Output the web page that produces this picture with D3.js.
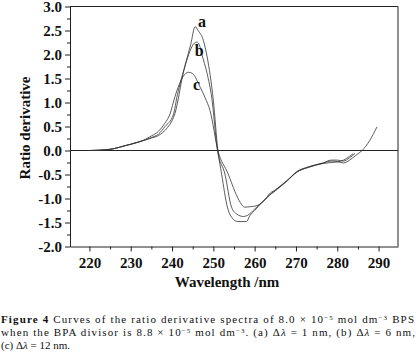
<!DOCTYPE html>
<html>
<head>
<meta charset="utf-8">
<script src="https://cdn.jsdelivr.net/npm/d3@7"></script>
<style>
  body { margin: 0; background: #fff; }
  svg { display: block; }
</style>
</head>
<body>
<div id="chart"></div>
<script>
// ratio derivative spectra: [wavelength nm, value]
const curveA = [
  [220, 0], [224, 0.015], [226, 0.04], [228.6, 0.1], [230, 0.13], [232, 0.18], [233.5, 0.22],
  [235, 0.26], [236.7, 0.31], [238.9, 0.48], [240, 0.62], [240.7, 0.77], [241.7, 1.16],
  [242.3, 1.45], [243.4, 1.85], [244.5, 2.2], [245.6, 2.58], [246.3, 2.5], [247.6, 2.29],
  [248.5, 1.95], [250, 1.04], [251.1, 0], [252, -0.49], [253.4, -1.18], [254.5, -1.4],
  [255.9, -1.48], [258, -1.48], [258.9, -1.35], [260, -1.25], [261.8, -1.08], [262.8, -1.0],
  [263.4, -0.92], [265, -0.82], [267.8, -0.63], [270.2, -0.44], [273, -0.34], [276.6, -0.26],
  [278.5, -0.22], [280, -0.23], [281.5, -0.26], [283, -0.2], [284.5, -0.1], [286, 0],
  [287.8, 0.2], [289.6, 0.49]
];
const curveB = [
  [220, 0], [224, 0.015], [226, 0.04], [228.6, 0.1], [230, 0.13], [232, 0.18], [233.5, 0.22],
  [235, 0.27], [236.7, 0.34], [238.3, 0.5], [240.3, 0.74], [241.3, 1.16], [242.2, 1.47],
  [243.2, 1.78], [244.4, 2.08], [245.2, 2.22], [246, 2.26], [246.7, 2.18], [247.2, 2.01],
  [248.5, 1.6], [249.6, 1.11], [251, 0], [252.8, -0.49], [254.4, -1.18], [255.6, -1.32],
  [257.3, -1.375], [258.3, -1.35], [260, -1.22], [261.8, -1.08], [263, -0.98], [265, -0.83],
  [267.8, -0.63], [270.2, -0.45], [273, -0.35], [276.6, -0.26], [278.5, -0.2], [280, -0.2],
  [281.5, -0.22], [283, -0.15], [284.3, -0.06]
];
const curveC = [
  [220, 0], [224, 0.015], [226, 0.04], [228.6, 0.1], [230, 0.13], [232, 0.18], [233.5, 0.23],
  [234.5, 0.28], [236.7, 0.4], [238.2, 0.56], [239.5, 0.76], [240.7, 1.12], [242.2, 1.47],
  [243, 1.58], [244, 1.63], [245, 1.6], [246.8, 1.32], [248, 1.1], [249.2, 0.83], [251.1, 0],
  [253.6, -0.49], [255.2, -0.85], [256.5, -1.08], [257.6, -1.18], [259, -1.17], [260.5, -1.15],
  [261.8, -1.08], [263, -0.97], [265, -0.84], [267.8, -0.64], [270.2, -0.45], [273, -0.35],
  [276.6, -0.27], [278.5, -0.25], [280, -0.24], [281.5, -0.2], [283, -0.12], [283.8, -0.07]
];

const curveNames = ["a", "b", "c"];
const curveLabelAt = [[246.3, 2.58], [245.5, 1.96], [245.1, 1.26]];

const xTicks = [220, 230, 240, 250, 260, 270, 280, 290];
const xMinorTicks = [225, 235, 245, 255, 265, 275, 285];
const yTicks = [-2, -1.5, -1, -0.5, 0, 0.5, 1, 1.5, 2, 2.5, 3];
const yMinorTicks = [-1.75, -1.25, -0.75, -0.25, 0.25, 0.75, 1.25, 1.75, 2.25, 2.75];

const width = 416;
const height = 352;
const margin = { top: 6.5, right: 18, bottom: 105.5, left: 70 };

const svg = d3.select("#chart")
  .append("svg")
  .attr("width", width)
  .attr("height", height);

const x = d3.scaleLinear()
  .domain([215.3, 294.7])
  .range([margin.left, width - margin.right]);

const y = d3.scaleLinear()
  .domain([-2, 3])
  .range([height - margin.bottom, margin.top]);

const boldSerif = "'Liberation Serif', 'Times New Roman', serif";

// minor ticks first, majors on top
svg.append("g")
  .attr("transform", `translate(0,${y(-2)})`)
  .call(d3.axisBottom(x).tickValues(xMinorTicks).tickSize(3).tickFormat(""))
  .call(g => g.select(".domain").remove());

svg.append("g")
  .attr("transform", `translate(${x.range()[0]},0)`)
  .call(d3.axisLeft(y).tickValues(yMinorTicks).tickSize(3).tickFormat(""))
  .call(g => g.select(".domain").remove());

const xAxis = svg.append("g")
  .attr("transform", `translate(0,${y(-2)})`)
  .call(d3.axisBottom(x).tickValues(xTicks).tickSize(5).tickSizeOuter(0).tickPadding(6));

const yAxis = svg.append("g")
  .attr("transform", `translate(${x.range()[0]},0)`)
  .call(d3.axisLeft(y).tickValues(yTicks).tickSize(5).tickSizeOuter(0).tickPadding(3)
    .tickFormat(d => d.toFixed(1)));

svg.selectAll(".tick line").attr("stroke", "#222");
svg.selectAll(".domain").attr("stroke", "#222");

xAxis.selectAll("text")
  .attr("font-family", boldSerif)
  .attr("font-weight", "bold")
  .attr("font-size", 15)
  .attr("fill", "#111");

yAxis.selectAll("text")
  .attr("font-family", boldSerif)
  .attr("font-weight", "bold")
  .attr("font-size", 15)
  .attr("fill", "#111")
  .attr("dy", "0.34em");

// top and right frame
svg.append("path")
  .attr("d", `M${x.range()[0]},${y(3)}H${x.range()[1]}V${y(-2)}`)
  .attr("fill", "none")
  .attr("stroke", "#222");

// zero line
svg.append("line")
  .attr("x1", x.range()[0])
  .attr("x2", x.range()[1])
  .attr("y1", y(0))
  .attr("y2", y(0))
  .attr("stroke", "#222");

const line = d3.line()
  .x(d => x(d[0]))
  .y(d => y(d[1]))
  .curve(d3.curveMonotoneX);

svg.selectAll(".spectrum")
  .data([curveA, curveB, curveC])
  .enter()
  .append("path")
  .attr("class", "spectrum")
  .attr("d", line)
  .attr("fill", "none")
  .attr("stroke", "#333")
  .attr("stroke-width", 0.8);

svg.selectAll(".curve-label")
  .data(curveNames)
  .enter()
  .append("text")
  .attr("class", "curve-label")
  .attr("x", (d, i) => x(curveLabelAt[i][0]))
  .attr("y", (d, i) => y(curveLabelAt[i][1]))
  .attr("font-family", boldSerif)
  .attr("font-weight", "bold")
  .attr("font-size", 16)
  .attr("fill", "#111")
  .text(d => d);

// axis titles
svg.append("text")
  .attr("x", (x.range()[0] + x.range()[1]) / 2 - 7)
  .attr("y", 287)
  .attr("text-anchor", "middle")
  .attr("font-family", boldSerif)
  .attr("font-weight", "bold")
  .attr("font-size", 15)
  .attr("fill", "#111")
  .text("Wavelength /nm");

svg.append("text")
  .attr("transform", "translate(30,128) rotate(-90)")
  .attr("text-anchor", "middle")
  .attr("font-family", boldSerif)
  .attr("font-weight", "bold")
  .attr("font-size", 15)
  .attr("fill", "#111")
  .text("Ratio derivative");

// caption, three lines
const capFont = "'Liberation Serif', 'DejaVu Serif', serif";
const cap = svg.append("g")
  .attr("font-family", capFont)
  .attr("font-size", 11)
  .attr("fill", "#111");

const sup = (t, s) => {
  t.append("tspan").attr("dy", -3).attr("font-size", 7).text(s);
};

const l1 = cap.append("text").attr("x", 1).attr("y", 323)
  .attr("textLength", 413).attr("lengthAdjust", "spacing");
l1.append("tspan").attr("font-weight", "bold").text("Figure 4 ");
l1.append("tspan").text("Curves of the ratio derivative spectra of 8.0 × 10");
sup(l1, "−5");
l1.append("tspan").attr("dy", 3).text(" mol dm");
sup(l1, "−3");
l1.append("tspan").attr("dy", 3).text(" BPS");

const l2 = cap.append("text").attr("x", 1).attr("y", 336)
  .attr("textLength", 414).attr("lengthAdjust", "spacing");
l2.append("tspan").text("when the BPA divisor is 8.8 × 10");
sup(l2, "−5");
l2.append("tspan").attr("dy", 3).text(" mol dm");
sup(l2, "−3");
l2.append("tspan").attr("dy", 3).text(". (a) Δ");
l2.append("tspan").attr("font-style", "italic").text("λ");
l2.append("tspan").text(" = 1 nm, (b) Δ");
l2.append("tspan").attr("font-style", "italic").text("λ");
l2.append("tspan").text(" = 6 nm,");

const l3 = cap.append("text").attr("x", 1).attr("y", 349);
l3.append("tspan").text("(c) Δ");
l3.append("tspan").attr("font-style", "italic").text("λ");
l3.append("tspan").text(" = 12 nm.");
</script>
</body>
</html>
